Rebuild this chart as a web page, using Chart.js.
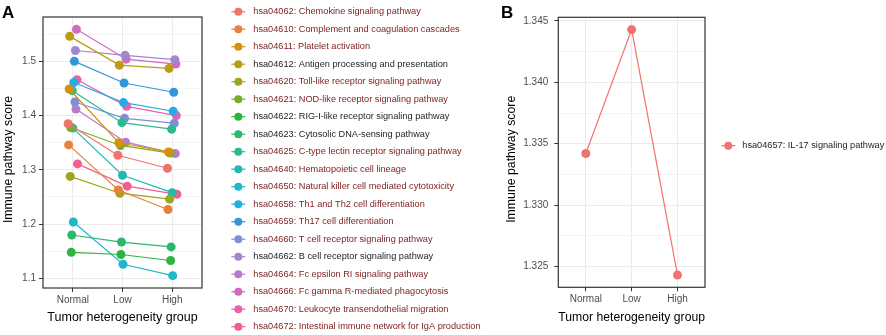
<!DOCTYPE html>
<html>
<head>
<meta charset="utf-8">
<script src="https://cdn.jsdelivr.net/npm/chart.js@4.4.1/dist/chart.umd.min.js"></script>
<style>
  html, body { margin: 0; padding: 0; background: #fff; overflow: hidden; }
  .panel { position: absolute; top: 0; height: 335px; }
  #panelA { left: 0; width: 498px; }
  #panelB { left: 498px; width: 388px; }
</style>
</head>
<body>
<div class="panel" id="panelA"><canvas id="chartA"></canvas></div>
<div class="panel" id="panelB"><canvas id="chartB"></canvas></div>
<script>
// x categories
const groups = ['Normal', 'Low', 'High'];

// panel A pathways
const pathwaysA = [
  'hsa04062: Chemokine signaling pathway',
  'hsa04610: Complement and coagulation cascades',
  'hsa04611: Platelet activation',
  'hsa04612: Antigen processing and presentation',
  'hsa04620: Toll-like receptor signaling pathway',
  'hsa04621: NOD-like receptor signaling pathway',
  'hsa04622: RIG-I-like receptor signaling pathway',
  'hsa04623: Cytosolic DNA-sensing pathway',
  'hsa04625: C-type lectin receptor signaling pathway',
  'hsa04640: Hematopoietic cell lineage',
  'hsa04650: Natural killer cell mediated cytotoxicity',
  'hsa04658: Th1 and Th2 cell differentiation',
  'hsa04659: Th17 cell differentiation',
  'hsa04660: T cell receptor signaling pathway',
  'hsa04662: B cell receptor signaling pathway',
  'hsa04664: Fc epsilon RI signaling pathway',
  'hsa04666: Fc gamma R-mediated phagocytosis',
  'hsa04670: Leukocyte transendothelial migration',
  'hsa04672: Intestinal immune network for IgA production'
];

// panel A scores, one array per group (same order as pathwaysA)
const scoresNormal = [1.385, 1.346, 1.449, 1.546, 1.288, 1.378, 1.148, 1.180, 1.446, 1.377,
                      1.204, 1.461, 1.500, 1.425, 1.520, 1.412, 1.559, 1.466, 1.311];
const scoresLow    = [1.327, 1.263, 1.350, 1.493, 1.257, 1.345, 1.144, 1.167, 1.387, 1.290,
                      1.126, 1.424, 1.460, 1.395, 1.511, 1.351, 1.504, 1.417, 1.270];
const scoresHigh   = [1.303, 1.227, 1.333, 1.487, 1.246, 1.331, 1.133, 1.158, 1.375, 1.258,
                      1.105, 1.408, 1.443, 1.386, 1.503, 1.330, 1.495, 1.400, 1.255];

// panel B
const pathwayB = 'hsa04657: IL-17 signaling pathway';
const scoresB = [1.3342, 1.3443, 1.3243];

const yTitle = 'Immune pathway score';
const xTitle = 'Tumor heterogeneity group';

// styling
const FONT = '"Liberation Sans", Arial, Helvetica, sans-serif';
const palette = ['#F0736E', '#E6823A', '#D6900C', '#BA9B12', '#9EA521', '#76AF26', '#2EB43E', '#2CB86A',
                 '#2CBA93', '#22BAAF', '#20B7CA', '#27ACE2', '#3396DC', '#7E8FD6', '#A286CE', '#B67BCB',
                 '#D06BC0', '#E662AA', '#F0608E'];
const RED_INK = '#7D2424', BLACK_INK = '#1E1E1E';
const legendInk = pathwaysA.map(p =>
  /hsa04612|hsa04622|hsa04623|hsa04662/.test(p) ? BLACK_INK : RED_INK);

const isMajor = (v, step) => Math.abs(v / step - Math.round(v / step)) < 1e-6;

// panel frame, tag letter, y title and ggplot-like legend
const ggExtras = {
  id: 'ggExtras',
  afterDraw(chart, args, opts) {
    const ctx = chart.ctx, a = chart.chartArea;
    ctx.save();
    ctx.strokeStyle = '#333333';
    ctx.lineWidth = 1.2;
    ctx.strokeRect(a.left, a.top, a.right - a.left, a.bottom - a.top);

    ctx.fillStyle = '#000';
    ctx.font = 'bold 17px ' + FONT;
    ctx.textBaseline = 'alphabetic';
    ctx.textAlign = 'left';
    ctx.fillText(opts.tag, opts.tagX, 17.5);

    // y axis title, sits a little below the panel middle like the original
    ctx.save();
    ctx.translate(opts.yTitleX, (a.top + a.bottom) / 2 + 7);
    ctx.rotate(-Math.PI / 2);
    ctx.textAlign = 'center';
    ctx.textBaseline = 'middle';
    ctx.font = '12.3px ' + FONT;
    ctx.fillText(yTitle, 0, 0);
    ctx.restore();

    ctx.font = '9.2px ' + FONT;
    ctx.textBaseline = 'middle';
    chart.data.datasets.forEach((ds, i) => {
      const y = opts.y0 + i * opts.step;
      ctx.strokeStyle = ds.borderColor;
      ctx.lineWidth = 1.2;
      ctx.beginPath();
      ctx.moveTo(opts.keyX - 7, y);
      ctx.lineTo(opts.keyX + 7, y);
      ctx.stroke();
      ctx.fillStyle = ds.backgroundColor;
      ctx.beginPath();
      ctx.arc(opts.keyX, y, 4, 0, Math.PI * 2);
      ctx.fill();
      ctx.fillStyle = opts.inks ? opts.inks[i] : '#1E1E1E';
      ctx.fillText(ds.label, opts.textX, y);
    });
    ctx.restore();
  }
};

function makeScales(yMin, yMax, yStep, majorStep, decimals, yWidth, xHeight, tickPad) {
  return {
    x: {
      type: 'linear',
      min: -0.6,
      max: 2.6,
      afterBuildTicks: s => { s.ticks = groups.map((g, i) => ({ value: i })); },
      afterFit: s => { s.height = xHeight; },
      ticks: {
        autoSkip: false, maxRotation: 0, padding: 2,
        color: '#4D4D4D', font: { family: FONT, size: 10 },
        callback: v => groups[v]
      },
      grid: { color: '#EBEBEB', lineWidth: 1, tickLength: 4, tickColor: '#333333', tickWidth: 1 },
      border: { display: false },
      title: {
        display: true, text: xTitle, color: '#000',
        font: { family: FONT, size: 12.5 }, padding: { top: 2, bottom: 10 }
      }
    },
    y: {
      type: 'linear',
      min: yMin,
      max: yMax,
      afterFit: s => { s.width = yWidth; },
      ticks: {
        stepSize: yStep, includeBounds: false, autoSkip: false, padding: tickPad,
        color: '#4D4D4D', font: { family: FONT, size: 10 },
        callback: v => isMajor(v, majorStep) ? v.toFixed(decimals) : ''
      },
      grid: {
        color: '#EBEBEB',
        lineWidth: c => isMajor(c.tick.value, majorStep) ? 1 : 0.5,
        tickLength: 4,
        tickWidth: 1,
        tickColor: c => isMajor(c.tick.value, majorStep) ? '#333333' : 'rgba(0,0,0,0)'
      },
      border: { display: false }
    }
  };
}

// dodge like ggplot position_dodge(width = 0.2)
const dodgeWidth = 0.2;
const datasetsA = pathwaysA.map((name, k) => {
  const off = (k - (pathwaysA.length - 1) / 2) * dodgeWidth / pathwaysA.length;
  const vals = [scoresNormal[k], scoresLow[k], scoresHigh[k]];
  return {
    label: name,
    data: vals.map((v, i) => ({ x: i + off, y: v })),
    borderColor: palette[k],
    backgroundColor: palette[k],
    borderWidth: 1.2,
    pointRadius: 4.5,
    pointBorderWidth: 0,
    pointBackgroundColor: palette[k]
  };
});

const chartA = new Chart(document.getElementById('chartA'), {
  type: 'line',
  data: { datasets: datasetsA },
  options: {
    animation: false,
    responsive: true,
    maintainAspectRatio: false,
    layout: { padding: { left: 0, top: 17, right: 296, bottom: 0 } },
    plugins: {
      legend: { display: false },
      tooltip: { enabled: false },
      ggExtras: { tag: 'A', tagX: 2, yTitleX: 8.5, keyX: 238.3, y0: 11.7, step: 17.5, textX: 253.3, inks: legendInk }
    },
    scales: makeScales(1.0823, 1.5817, 0.05, 0.1, 1, 43, 47, 3)
  },
  plugins: [ggExtras]
});

const chartB = new Chart(document.getElementById('chartB'), {
  type: 'line',
  data: {
    datasets: [{
      label: pathwayB,
      data: scoresB.map((v, i) => ({ x: i, y: v })),
      borderColor: palette[0],
      backgroundColor: palette[0],
      borderWidth: 1.2,
      pointRadius: 4.5,
      pointBorderWidth: 0,
      pointBackgroundColor: palette[0]
    }]
  },
  options: {
    animation: false,
    responsive: true,
    maintainAspectRatio: false,
    layout: { padding: { left: 0, top: 17.3, right: 181, bottom: 0 } },
    plugins: {
      legend: { display: false },
      tooltip: { enabled: false },
      ggExtras: { tag: 'B', tagX: 3, yTitleX: 14, keyX: 230.3, y0: 145.7, step: 17.5, textX: 244.3 }
    },
    scales: makeScales(1.3233, 1.3453, 0.0025, 0.005, 3, 60.3, 47.7, 6)
  },
  plugins: [ggExtras]
});
</script>
</body>
</html>
